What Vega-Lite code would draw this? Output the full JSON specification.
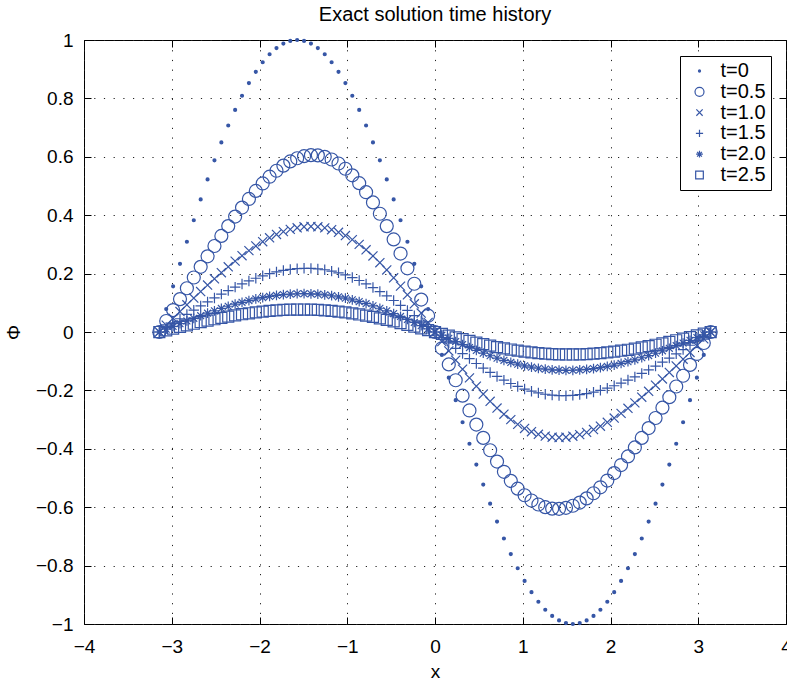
{
"$schema":"https://vega.github.io/schema/vega-lite/v6.json",
"width":702,"height":584,
"autosize":{"type":"none"},
"padding":{"left":84,"top":40,"right":1,"bottom":59},
"title":{"text":"Exact solution time history","font":"Liberation Sans","fontSize":20,"fontWeight":"normal","color":"#000","offset":6},
"data":{"values":[
{"s":"t=0","x":-3.1416,"y":0},{"s":"t=0","x":-3.0631,"y":0.0785},{"s":"t=0","x":-2.9845,"y":0.1564},{"s":"t=0","x":-2.906,"y":0.2334},{"s":"t=0","x":-2.8274,"y":0.309},{"s":"t=0","x":-2.7489,"y":0.3827},{"s":"t=0","x":-2.6704,"y":0.454},{"s":"t=0","x":-2.5918,"y":0.5225},{"s":"t=0","x":-2.5133,"y":0.5878},{"s":"t=0","x":-2.4347,"y":0.6494},{"s":"t=0","x":-2.3562,"y":0.7071},{"s":"t=0","x":-2.2777,"y":0.7604},{"s":"t=0","x":-2.1991,"y":0.809},{"s":"t=0","x":-2.1206,"y":0.8526},{"s":"t=0","x":-2.042,"y":0.891},{"s":"t=0","x":-1.9635,"y":0.9239},{"s":"t=0","x":-1.885,"y":0.9511},{"s":"t=0","x":-1.8064,"y":0.9724},{"s":"t=0","x":-1.7279,"y":0.9877},{"s":"t=0","x":-1.6493,"y":0.9969},{"s":"t=0","x":-1.5708,"y":1},{"s":"t=0","x":-1.4923,"y":0.9969},{"s":"t=0","x":-1.4137,"y":0.9877},{"s":"t=0","x":-1.3352,"y":0.9724},{"s":"t=0","x":-1.2566,"y":0.9511},{"s":"t=0","x":-1.1781,"y":0.9239},{"s":"t=0","x":-1.0996,"y":0.891},{"s":"t=0","x":-1.021,"y":0.8526},{"s":"t=0","x":-0.9425,"y":0.809},{"s":"t=0","x":-0.8639,"y":0.7604},{"s":"t=0","x":-0.7854,"y":0.7071},{"s":"t=0","x":-0.7069,"y":0.6494},{"s":"t=0","x":-0.6283,"y":0.5878},{"s":"t=0","x":-0.5498,"y":0.5225},{"s":"t=0","x":-0.4712,"y":0.454},{"s":"t=0","x":-0.3927,"y":0.3827},{"s":"t=0","x":-0.3142,"y":0.309},{"s":"t=0","x":-0.2356,"y":0.2334},{"s":"t=0","x":-0.1571,"y":0.1564},{"s":"t=0","x":-0.0785,"y":0.0785},
{"s":"t=0","x":0,"y":0},
{"s":"t=0","x":0.0785,"y":-0.0785},{"s":"t=0","x":0.1571,"y":-0.1564},{"s":"t=0","x":0.2356,"y":-0.2334},{"s":"t=0","x":0.3142,"y":-0.309},{"s":"t=0","x":0.3927,"y":-0.3827},{"s":"t=0","x":0.4712,"y":-0.454},{"s":"t=0","x":0.5498,"y":-0.5225},{"s":"t=0","x":0.6283,"y":-0.5878},{"s":"t=0","x":0.7069,"y":-0.6494},{"s":"t=0","x":0.7854,"y":-0.7071},{"s":"t=0","x":0.8639,"y":-0.7604},{"s":"t=0","x":0.9425,"y":-0.809},{"s":"t=0","x":1.021,"y":-0.8526},{"s":"t=0","x":1.0996,"y":-0.891},{"s":"t=0","x":1.1781,"y":-0.9239},{"s":"t=0","x":1.2566,"y":-0.9511},{"s":"t=0","x":1.3352,"y":-0.9724},{"s":"t=0","x":1.4137,"y":-0.9877},{"s":"t=0","x":1.4923,"y":-0.9969},{"s":"t=0","x":1.5708,"y":-1},{"s":"t=0","x":1.6493,"y":-0.9969},{"s":"t=0","x":1.7279,"y":-0.9877},{"s":"t=0","x":1.8064,"y":-0.9724},{"s":"t=0","x":1.885,"y":-0.9511},{"s":"t=0","x":1.9635,"y":-0.9239},{"s":"t=0","x":2.042,"y":-0.891},{"s":"t=0","x":2.1206,"y":-0.8526},{"s":"t=0","x":2.1991,"y":-0.809},{"s":"t=0","x":2.2777,"y":-0.7604},{"s":"t=0","x":2.3562,"y":-0.7071},{"s":"t=0","x":2.4347,"y":-0.6494},{"s":"t=0","x":2.5133,"y":-0.5878},{"s":"t=0","x":2.5918,"y":-0.5225},{"s":"t=0","x":2.6704,"y":-0.454},{"s":"t=0","x":2.7489,"y":-0.3827},{"s":"t=0","x":2.8274,"y":-0.309},{"s":"t=0","x":2.906,"y":-0.2334},{"s":"t=0","x":2.9845,"y":-0.1564},{"s":"t=0","x":3.0631,"y":-0.0785},{"s":"t=0","x":3.1416,"y":0},

{"s":"t=0.5","x":-3.1416,"y":0},{"s":"t=0.5","x":-3.0631,"y":0.0376},{"s":"t=0.5","x":-2.9845,"y":0.0752},{"s":"t=0.5","x":-2.906,"y":0.1126},{"s":"t=0.5","x":-2.8274,"y":0.1498},{"s":"t=0.5","x":-2.7489,"y":0.1867},{"s":"t=0.5","x":-2.6704,"y":0.2232},{"s":"t=0.5","x":-2.5918,"y":0.2592},{"s":"t=0.5","x":-2.5133,"y":0.2946},{"s":"t=0.5","x":-2.4347,"y":0.3291},{"s":"t=0.5","x":-2.3562,"y":0.3627},{"s":"t=0.5","x":-2.2777,"y":0.3952},{"s":"t=0.5","x":-2.1991,"y":0.4262},{"s":"t=0.5","x":-2.1206,"y":0.4556},{"s":"t=0.5","x":-2.042,"y":0.4832},{"s":"t=0.5","x":-1.9635,"y":0.5087},{"s":"t=0.5","x":-1.885,"y":0.5318},{"s":"t=0.5","x":-1.8064,"y":0.5522},{"s":"t=0.5","x":-1.7279,"y":0.5698},{"s":"t=0.5","x":-1.6493,"y":0.5841},{"s":"t=0.5","x":-1.5708,"y":0.595},{"s":"t=0.5","x":-1.4923,"y":0.6022},{"s":"t=0.5","x":-1.4137,"y":0.6056},{"s":"t=0.5","x":-1.3352,"y":0.6049},{"s":"t=0.5","x":-1.2566,"y":0.6},{"s":"t=0.5","x":-1.1781,"y":0.5907},{"s":"t=0.5","x":-1.0996,"y":0.5771},{"s":"t=0.5","x":-1.021,"y":0.559},{"s":"t=0.5","x":-0.9425,"y":0.5365},{"s":"t=0.5","x":-0.8639,"y":0.5097},{"s":"t=0.5","x":-0.7854,"y":0.4787},{"s":"t=0.5","x":-0.7069,"y":0.4437},{"s":"t=0.5","x":-0.6283,"y":0.4049},{"s":"t=0.5","x":-0.5498,"y":0.3626},{"s":"t=0.5","x":-0.4712,"y":0.317},{"s":"t=0.5","x":-0.3927,"y":0.2687},{"s":"t=0.5","x":-0.3142,"y":0.218},{"s":"t=0.5","x":-0.2356,"y":0.1652},{"s":"t=0.5","x":-0.1571,"y":0.111},{"s":"t=0.5","x":-0.0785,"y":0.0558},
{"s":"t=0.5","x":0,"y":0},
{"s":"t=0.5","x":0.0785,"y":-0.0558},{"s":"t=0.5","x":0.1571,"y":-0.111},{"s":"t=0.5","x":0.2356,"y":-0.1652},{"s":"t=0.5","x":0.3142,"y":-0.218},{"s":"t=0.5","x":0.3927,"y":-0.2687},{"s":"t=0.5","x":0.4712,"y":-0.317},{"s":"t=0.5","x":0.5498,"y":-0.3626},{"s":"t=0.5","x":0.6283,"y":-0.4049},{"s":"t=0.5","x":0.7069,"y":-0.4437},{"s":"t=0.5","x":0.7854,"y":-0.4787},{"s":"t=0.5","x":0.8639,"y":-0.5097},{"s":"t=0.5","x":0.9425,"y":-0.5365},{"s":"t=0.5","x":1.021,"y":-0.559},{"s":"t=0.5","x":1.0996,"y":-0.5771},{"s":"t=0.5","x":1.1781,"y":-0.5907},{"s":"t=0.5","x":1.2566,"y":-0.6},{"s":"t=0.5","x":1.3352,"y":-0.6049},{"s":"t=0.5","x":1.4137,"y":-0.6056},{"s":"t=0.5","x":1.4923,"y":-0.6022},{"s":"t=0.5","x":1.5708,"y":-0.595},{"s":"t=0.5","x":1.6493,"y":-0.5841},{"s":"t=0.5","x":1.7279,"y":-0.5698},{"s":"t=0.5","x":1.8064,"y":-0.5522},{"s":"t=0.5","x":1.885,"y":-0.5318},{"s":"t=0.5","x":1.9635,"y":-0.5087},{"s":"t=0.5","x":2.042,"y":-0.4832},{"s":"t=0.5","x":2.1206,"y":-0.4556},{"s":"t=0.5","x":2.1991,"y":-0.4262},{"s":"t=0.5","x":2.2777,"y":-0.3952},{"s":"t=0.5","x":2.3562,"y":-0.3627},{"s":"t=0.5","x":2.4347,"y":-0.3291},{"s":"t=0.5","x":2.5133,"y":-0.2946},{"s":"t=0.5","x":2.5918,"y":-0.2592},{"s":"t=0.5","x":2.6704,"y":-0.2232},{"s":"t=0.5","x":2.7489,"y":-0.1867},{"s":"t=0.5","x":2.8274,"y":-0.1498},{"s":"t=0.5","x":2.906,"y":-0.1126},{"s":"t=0.5","x":2.9845,"y":-0.0752},{"s":"t=0.5","x":3.0631,"y":-0.0376},{"s":"t=0.5","x":3.1416,"y":0},

{"s":"t=1.0","x":-3.1416,"y":0},{"s":"t=1.0","x":-3.0631,"y":0.0235},{"s":"t=1.0","x":-2.9845,"y":0.0469},{"s":"t=1.0","x":-2.906,"y":0.0702},{"s":"t=1.0","x":-2.8274,"y":0.0933},{"s":"t=1.0","x":-2.7489,"y":0.1161},{"s":"t=1.0","x":-2.6704,"y":0.1386},{"s":"t=1.0","x":-2.5918,"y":0.1607},{"s":"t=1.0","x":-2.5133,"y":0.1823},{"s":"t=1.0","x":-2.4347,"y":0.2032},{"s":"t=1.0","x":-2.3562,"y":0.2234},{"s":"t=1.0","x":-2.2777,"y":0.2428},{"s":"t=1.0","x":-2.1991,"y":0.2612},{"s":"t=1.0","x":-2.1206,"y":0.2786},{"s":"t=1.0","x":-2.042,"y":0.2946},{"s":"t=1.0","x":-1.9635,"y":0.3093},{"s":"t=1.0","x":-1.885,"y":0.3225},{"s":"t=1.0","x":-1.8064,"y":0.334},{"s":"t=1.0","x":-1.7279,"y":0.3437},{"s":"t=1.0","x":-1.6493,"y":0.3514},{"s":"t=1.0","x":-1.5708,"y":0.357},{"s":"t=1.0","x":-1.4923,"y":0.3604},{"s":"t=1.0","x":-1.4137,"y":0.3616},{"s":"t=1.0","x":-1.3352,"y":0.3603},{"s":"t=1.0","x":-1.2566,"y":0.3566},{"s":"t=1.0","x":-1.1781,"y":0.3503},{"s":"t=1.0","x":-1.0996,"y":0.3416},{"s":"t=1.0","x":-1.021,"y":0.3302},{"s":"t=1.0","x":-0.9425,"y":0.3164},{"s":"t=1.0","x":-0.8639,"y":0.3001},{"s":"t=1.0","x":-0.7854,"y":0.2814},{"s":"t=1.0","x":-0.7069,"y":0.2605},{"s":"t=1.0","x":-0.6283,"y":0.2374},{"s":"t=1.0","x":-0.5498,"y":0.2124},{"s":"t=1.0","x":-0.4712,"y":0.1855},{"s":"t=1.0","x":-0.3927,"y":0.1571},{"s":"t=1.0","x":-0.3142,"y":0.1274},{"s":"t=1.0","x":-0.2356,"y":0.0965},{"s":"t=1.0","x":-0.1571,"y":0.0648},{"s":"t=1.0","x":-0.0785,"y":0.0326},
{"s":"t=1.0","x":0,"y":0},
{"s":"t=1.0","x":0.0785,"y":-0.0326},{"s":"t=1.0","x":0.1571,"y":-0.0648},{"s":"t=1.0","x":0.2356,"y":-0.0965},{"s":"t=1.0","x":0.3142,"y":-0.1274},{"s":"t=1.0","x":0.3927,"y":-0.1571},{"s":"t=1.0","x":0.4712,"y":-0.1855},{"s":"t=1.0","x":0.5498,"y":-0.2124},{"s":"t=1.0","x":0.6283,"y":-0.2374},{"s":"t=1.0","x":0.7069,"y":-0.2605},{"s":"t=1.0","x":0.7854,"y":-0.2814},{"s":"t=1.0","x":0.8639,"y":-0.3001},{"s":"t=1.0","x":0.9425,"y":-0.3164},{"s":"t=1.0","x":1.021,"y":-0.3302},{"s":"t=1.0","x":1.0996,"y":-0.3416},{"s":"t=1.0","x":1.1781,"y":-0.3503},{"s":"t=1.0","x":1.2566,"y":-0.3566},{"s":"t=1.0","x":1.3352,"y":-0.3603},{"s":"t=1.0","x":1.4137,"y":-0.3616},{"s":"t=1.0","x":1.4923,"y":-0.3604},{"s":"t=1.0","x":1.5708,"y":-0.357},{"s":"t=1.0","x":1.6493,"y":-0.3514},{"s":"t=1.0","x":1.7279,"y":-0.3437},{"s":"t=1.0","x":1.8064,"y":-0.334},{"s":"t=1.0","x":1.885,"y":-0.3225},{"s":"t=1.0","x":1.9635,"y":-0.3093},{"s":"t=1.0","x":2.042,"y":-0.2946},{"s":"t=1.0","x":2.1206,"y":-0.2786},{"s":"t=1.0","x":2.1991,"y":-0.2612},{"s":"t=1.0","x":2.2777,"y":-0.2428},{"s":"t=1.0","x":2.3562,"y":-0.2234},{"s":"t=1.0","x":2.4347,"y":-0.2032},{"s":"t=1.0","x":2.5133,"y":-0.1823},{"s":"t=1.0","x":2.5918,"y":-0.1607},{"s":"t=1.0","x":2.6704,"y":-0.1386},{"s":"t=1.0","x":2.7489,"y":-0.1161},{"s":"t=1.0","x":2.8274,"y":-0.0933},{"s":"t=1.0","x":2.906,"y":-0.0702},{"s":"t=1.0","x":2.9845,"y":-0.0469},{"s":"t=1.0","x":3.0631,"y":-0.0235},{"s":"t=1.0","x":3.1416,"y":0},

{"s":"t=1.5","x":-3.1416,"y":0},{"s":"t=1.5","x":-3.0631,"y":0.0152},{"s":"t=1.5","x":-2.9845,"y":0.0304},{"s":"t=1.5","x":-2.906,"y":0.0454},{"s":"t=1.5","x":-2.8274,"y":0.0603},{"s":"t=1.5","x":-2.7489,"y":0.0749},{"s":"t=1.5","x":-2.6704,"y":0.0892},{"s":"t=1.5","x":-2.5918,"y":0.1031},{"s":"t=1.5","x":-2.5133,"y":0.1166},{"s":"t=1.5","x":-2.4347,"y":0.1296},{"s":"t=1.5","x":-2.3562,"y":0.1419},{"s":"t=1.5","x":-2.2777,"y":0.1537},{"s":"t=1.5","x":-2.1991,"y":0.1646},{"s":"t=1.5","x":-2.1206,"y":0.1748},{"s":"t=1.5","x":-2.042,"y":0.1841},{"s":"t=1.5","x":-1.9635,"y":0.1924},{"s":"t=1.5","x":-1.885,"y":0.1996},{"s":"t=1.5","x":-1.8064,"y":0.2058},{"s":"t=1.5","x":-1.7279,"y":0.2108},{"s":"t=1.5","x":-1.6493,"y":0.2145},{"s":"t=1.5","x":-1.5708,"y":0.217},{"s":"t=1.5","x":-1.4923,"y":0.2181},{"s":"t=1.5","x":-1.4137,"y":0.2179},{"s":"t=1.5","x":-1.3352,"y":0.2162},{"s":"t=1.5","x":-1.2566,"y":0.2131},{"s":"t=1.5","x":-1.1781,"y":0.2086},{"s":"t=1.5","x":-1.0996,"y":0.2027},{"s":"t=1.5","x":-1.021,"y":0.1953},{"s":"t=1.5","x":-0.9425,"y":0.1865},{"s":"t=1.5","x":-0.8639,"y":0.1764},{"s":"t=1.5","x":-0.7854,"y":0.1649},{"s":"t=1.5","x":-0.7069,"y":0.1523},{"s":"t=1.5","x":-0.6283,"y":0.1385},{"s":"t=1.5","x":-0.5498,"y":0.1236},{"s":"t=1.5","x":-0.4712,"y":0.1078},{"s":"t=1.5","x":-0.3927,"y":0.0912},{"s":"t=1.5","x":-0.3142,"y":0.0738},{"s":"t=1.5","x":-0.2356,"y":0.0559},{"s":"t=1.5","x":-0.1571,"y":0.0375},{"s":"t=1.5","x":-0.0785,"y":0.0188},
{"s":"t=1.5","x":0,"y":0},
{"s":"t=1.5","x":0.0785,"y":-0.0188},{"s":"t=1.5","x":0.1571,"y":-0.0375},{"s":"t=1.5","x":0.2356,"y":-0.0559},{"s":"t=1.5","x":0.3142,"y":-0.0738},{"s":"t=1.5","x":0.3927,"y":-0.0912},{"s":"t=1.5","x":0.4712,"y":-0.1078},{"s":"t=1.5","x":0.5498,"y":-0.1236},{"s":"t=1.5","x":0.6283,"y":-0.1385},{"s":"t=1.5","x":0.7069,"y":-0.1523},{"s":"t=1.5","x":0.7854,"y":-0.1649},{"s":"t=1.5","x":0.8639,"y":-0.1764},{"s":"t=1.5","x":0.9425,"y":-0.1865},{"s":"t=1.5","x":1.021,"y":-0.1953},{"s":"t=1.5","x":1.0996,"y":-0.2027},{"s":"t=1.5","x":1.1781,"y":-0.2086},{"s":"t=1.5","x":1.2566,"y":-0.2131},{"s":"t=1.5","x":1.3352,"y":-0.2162},{"s":"t=1.5","x":1.4137,"y":-0.2179},{"s":"t=1.5","x":1.4923,"y":-0.2181},{"s":"t=1.5","x":1.5708,"y":-0.217},{"s":"t=1.5","x":1.6493,"y":-0.2145},{"s":"t=1.5","x":1.7279,"y":-0.2108},{"s":"t=1.5","x":1.8064,"y":-0.2058},{"s":"t=1.5","x":1.885,"y":-0.1996},{"s":"t=1.5","x":1.9635,"y":-0.1924},{"s":"t=1.5","x":2.042,"y":-0.1841},{"s":"t=1.5","x":2.1206,"y":-0.1748},{"s":"t=1.5","x":2.1991,"y":-0.1646},{"s":"t=1.5","x":2.2777,"y":-0.1537},{"s":"t=1.5","x":2.3562,"y":-0.1419},{"s":"t=1.5","x":2.4347,"y":-0.1296},{"s":"t=1.5","x":2.5133,"y":-0.1166},{"s":"t=1.5","x":2.5918,"y":-0.1031},{"s":"t=1.5","x":2.6704,"y":-0.0892},{"s":"t=1.5","x":2.7489,"y":-0.0749},{"s":"t=1.5","x":2.8274,"y":-0.0603},{"s":"t=1.5","x":2.906,"y":-0.0454},{"s":"t=1.5","x":2.9845,"y":-0.0304},{"s":"t=1.5","x":3.0631,"y":-0.0152},{"s":"t=1.5","x":3.1416,"y":0},

{"s":"t=2.0","x":-3.1416,"y":0},{"s":"t=2.0","x":-3.0631,"y":0.0096},{"s":"t=2.0","x":-2.9845,"y":0.0191},{"s":"t=2.0","x":-2.906,"y":0.0285},{"s":"t=2.0","x":-2.8274,"y":0.0378},{"s":"t=2.0","x":-2.7489,"y":0.047},{"s":"t=2.0","x":-2.6704,"y":0.0558},{"s":"t=2.0","x":-2.5918,"y":0.0644},{"s":"t=2.0","x":-2.5133,"y":0.0727},{"s":"t=2.0","x":-2.4347,"y":0.0806},{"s":"t=2.0","x":-2.3562,"y":0.0881},{"s":"t=2.0","x":-2.2777,"y":0.0952},{"s":"t=2.0","x":-2.1991,"y":0.1017},{"s":"t=2.0","x":-2.1206,"y":0.1077},{"s":"t=2.0","x":-2.042,"y":0.1131},{"s":"t=2.0","x":-1.9635,"y":0.1179},{"s":"t=2.0","x":-1.885,"y":0.1219},{"s":"t=2.0","x":-1.8064,"y":0.1253},{"s":"t=2.0","x":-1.7279,"y":0.128},{"s":"t=2.0","x":-1.6493,"y":0.1299},{"s":"t=2.0","x":-1.5708,"y":0.131},{"s":"t=2.0","x":-1.4923,"y":0.1313},{"s":"t=2.0","x":-1.4137,"y":0.1308},{"s":"t=2.0","x":-1.3352,"y":0.1294},{"s":"t=2.0","x":-1.2566,"y":0.1272},{"s":"t=2.0","x":-1.1781,"y":0.1242},{"s":"t=2.0","x":-1.0996,"y":0.1204},{"s":"t=2.0","x":-1.021,"y":0.1157},{"s":"t=2.0","x":-0.9425,"y":0.1103},{"s":"t=2.0","x":-0.8639,"y":0.1041},{"s":"t=2.0","x":-0.7854,"y":0.0971},{"s":"t=2.0","x":-0.7069,"y":0.0895},{"s":"t=2.0","x":-0.6283,"y":0.0813},{"s":"t=2.0","x":-0.5498,"y":0.0725},{"s":"t=2.0","x":-0.4712,"y":0.0631},{"s":"t=2.0","x":-0.3927,"y":0.0533},{"s":"t=2.0","x":-0.3142,"y":0.0431},{"s":"t=2.0","x":-0.2356,"y":0.0326},{"s":"t=2.0","x":-0.1571,"y":0.0219},{"s":"t=2.0","x":-0.0785,"y":0.011},
{"s":"t=2.0","x":0,"y":0},
{"s":"t=2.0","x":0.0785,"y":-0.011},{"s":"t=2.0","x":0.1571,"y":-0.0219},{"s":"t=2.0","x":0.2356,"y":-0.0326},{"s":"t=2.0","x":0.3142,"y":-0.0431},{"s":"t=2.0","x":0.3927,"y":-0.0533},{"s":"t=2.0","x":0.4712,"y":-0.0631},{"s":"t=2.0","x":0.5498,"y":-0.0725},{"s":"t=2.0","x":0.6283,"y":-0.0813},{"s":"t=2.0","x":0.7069,"y":-0.0895},{"s":"t=2.0","x":0.7854,"y":-0.0971},{"s":"t=2.0","x":0.8639,"y":-0.1041},{"s":"t=2.0","x":0.9425,"y":-0.1103},{"s":"t=2.0","x":1.021,"y":-0.1157},{"s":"t=2.0","x":1.0996,"y":-0.1204},{"s":"t=2.0","x":1.1781,"y":-0.1242},{"s":"t=2.0","x":1.2566,"y":-0.1272},{"s":"t=2.0","x":1.3352,"y":-0.1294},{"s":"t=2.0","x":1.4137,"y":-0.1308},{"s":"t=2.0","x":1.4923,"y":-0.1313},{"s":"t=2.0","x":1.5708,"y":-0.131},{"s":"t=2.0","x":1.6493,"y":-0.1299},{"s":"t=2.0","x":1.7279,"y":-0.128},{"s":"t=2.0","x":1.8064,"y":-0.1253},{"s":"t=2.0","x":1.885,"y":-0.1219},{"s":"t=2.0","x":1.9635,"y":-0.1179},{"s":"t=2.0","x":2.042,"y":-0.1131},{"s":"t=2.0","x":2.1206,"y":-0.1077},{"s":"t=2.0","x":2.1991,"y":-0.1017},{"s":"t=2.0","x":2.2777,"y":-0.0952},{"s":"t=2.0","x":2.3562,"y":-0.0881},{"s":"t=2.0","x":2.4347,"y":-0.0806},{"s":"t=2.0","x":2.5133,"y":-0.0727},{"s":"t=2.0","x":2.5918,"y":-0.0644},{"s":"t=2.0","x":2.6704,"y":-0.0558},{"s":"t=2.0","x":2.7489,"y":-0.047},{"s":"t=2.0","x":2.8274,"y":-0.0378},{"s":"t=2.0","x":2.906,"y":-0.0285},{"s":"t=2.0","x":2.9845,"y":-0.0191},{"s":"t=2.0","x":3.0631,"y":-0.0096},{"s":"t=2.0","x":3.1416,"y":0},

{"s":"t=2.5","x":-3.1416,"y":0},{"s":"t=2.5","x":-3.0631,"y":0.0058},{"s":"t=2.5","x":-2.9845,"y":0.0116},{"s":"t=2.5","x":-2.906,"y":0.0173},{"s":"t=2.5","x":-2.8274,"y":0.0229},{"s":"t=2.5","x":-2.7489,"y":0.0283},{"s":"t=2.5","x":-2.6704,"y":0.0337},{"s":"t=2.5","x":-2.5918,"y":0.0388},{"s":"t=2.5","x":-2.5133,"y":0.0437},{"s":"t=2.5","x":-2.4347,"y":0.0484},{"s":"t=2.5","x":-2.3562,"y":0.0529},{"s":"t=2.5","x":-2.2777,"y":0.057},{"s":"t=2.5","x":-2.1991,"y":0.0608},{"s":"t=2.5","x":-2.1206,"y":0.0642},{"s":"t=2.5","x":-2.042,"y":0.0673},{"s":"t=2.5","x":-1.9635,"y":0.07},{"s":"t=2.5","x":-1.885,"y":0.0723},{"s":"t=2.5","x":-1.8064,"y":0.0741},{"s":"t=2.5","x":-1.7279,"y":0.0756},{"s":"t=2.5","x":-1.6493,"y":0.0765},{"s":"t=2.5","x":-1.5708,"y":0.077},{"s":"t=2.5","x":-1.4923,"y":0.077},{"s":"t=2.5","x":-1.4137,"y":0.0765},{"s":"t=2.5","x":-1.3352,"y":0.0756},{"s":"t=2.5","x":-1.2566,"y":0.0742},{"s":"t=2.5","x":-1.1781,"y":0.0723},{"s":"t=2.5","x":-1.0996,"y":0.0699},{"s":"t=2.5","x":-1.021,"y":0.0671},{"s":"t=2.5","x":-0.9425,"y":0.0638},{"s":"t=2.5","x":-0.8639,"y":0.0601},{"s":"t=2.5","x":-0.7854,"y":0.056},{"s":"t=2.5","x":-0.7069,"y":0.0516},{"s":"t=2.5","x":-0.6283,"y":0.0468},{"s":"t=2.5","x":-0.5498,"y":0.0417},{"s":"t=2.5","x":-0.4712,"y":0.0363},{"s":"t=2.5","x":-0.3927,"y":0.0306},{"s":"t=2.5","x":-0.3142,"y":0.0247},{"s":"t=2.5","x":-0.2356,"y":0.0187},{"s":"t=2.5","x":-0.1571,"y":0.0125},{"s":"t=2.5","x":-0.0785,"y":0.0063},
{"s":"t=2.5","x":0,"y":0},
{"s":"t=2.5","x":0.0785,"y":-0.0063},{"s":"t=2.5","x":0.1571,"y":-0.0125},{"s":"t=2.5","x":0.2356,"y":-0.0187},{"s":"t=2.5","x":0.3142,"y":-0.0247},{"s":"t=2.5","x":0.3927,"y":-0.0306},{"s":"t=2.5","x":0.4712,"y":-0.0363},{"s":"t=2.5","x":0.5498,"y":-0.0417},{"s":"t=2.5","x":0.6283,"y":-0.0468},{"s":"t=2.5","x":0.7069,"y":-0.0516},{"s":"t=2.5","x":0.7854,"y":-0.056},{"s":"t=2.5","x":0.8639,"y":-0.0601},{"s":"t=2.5","x":0.9425,"y":-0.0638},{"s":"t=2.5","x":1.021,"y":-0.0671},{"s":"t=2.5","x":1.0996,"y":-0.0699},{"s":"t=2.5","x":1.1781,"y":-0.0723},{"s":"t=2.5","x":1.2566,"y":-0.0742},{"s":"t=2.5","x":1.3352,"y":-0.0756},{"s":"t=2.5","x":1.4137,"y":-0.0765},{"s":"t=2.5","x":1.4923,"y":-0.077},{"s":"t=2.5","x":1.5708,"y":-0.077},{"s":"t=2.5","x":1.6493,"y":-0.0765},{"s":"t=2.5","x":1.7279,"y":-0.0756},{"s":"t=2.5","x":1.8064,"y":-0.0741},{"s":"t=2.5","x":1.885,"y":-0.0723},{"s":"t=2.5","x":1.9635,"y":-0.07},{"s":"t=2.5","x":2.042,"y":-0.0673},{"s":"t=2.5","x":2.1206,"y":-0.0642},{"s":"t=2.5","x":2.1991,"y":-0.0608},{"s":"t=2.5","x":2.2777,"y":-0.057},{"s":"t=2.5","x":2.3562,"y":-0.0529},{"s":"t=2.5","x":2.4347,"y":-0.0484},{"s":"t=2.5","x":2.5133,"y":-0.0437},{"s":"t=2.5","x":2.5918,"y":-0.0388},{"s":"t=2.5","x":2.6704,"y":-0.0337},{"s":"t=2.5","x":2.7489,"y":-0.0283},{"s":"t=2.5","x":2.8274,"y":-0.0229},{"s":"t=2.5","x":2.906,"y":-0.0173},{"s":"t=2.5","x":2.9845,"y":-0.0116},{"s":"t=2.5","x":3.0631,"y":-0.0058},{"s":"t=2.5","x":3.1416,"y":0}
]},
"layer":[
{
"mark":{"type":"point","filled":false,"size":169,"strokeWidth":1.2,"color":"#3656a6","opacity":1},
"encoding":{
"x":{"field":"x","type":"quantitative","scale":{"domain":[-4,4],"nice":false,"zero":false},
"axis":{"orient":"bottom","values":[-4,-3,-2,-1,0,1,2,3,4],"format":"~g","title":"x","grid":true,"labelPadding":20,"titlePadding":6}},
"y":{"field":"y","type":"quantitative","scale":{"domain":[-1,1],"nice":false,"zero":false},
"axis":{"orient":"left","values":[-1,-0.8,-0.6,-0.4,-0.2,0,0.2,0.4,0.6,0.8,1],"format":"~g","title":"Φ","grid":true,"labelPadding":18,"titlePadding":12}},
"shape":{"field":"s","type":"nominal",
"scale":{"domain":["t=0","t=0.5","t=1.0","t=1.5","t=2.0","t=2.5"],
"range":["M0.23,0A0.23,0.23,0,1,1,-0.23,0A0.23,0.23,0,1,1,0.23,0ZM0.1,0A0.1,0.1,0,1,1,-0.1,0A0.1,0.1,0,1,1,0.1,0Z",
"M1,0A1,1,0,1,1,-1,0A1,1,0,1,1,1,0Z",
"M-0.7,-0.7L0.7,0.7M-0.7,0.7L0.7,-0.7",
"M-0.8,0L0.8,0M0,-0.8L0,0.8",
"M-0.75,0L0.75,0M0,-0.75L0,0.75M-0.53,-0.53L0.53,0.53M-0.53,0.53L0.53,-0.53",
"M-0.85,-0.85L0.85,-0.85L0.85,0.85L-0.85,0.85Z"]},
"legend":{"orient":"none","legendX":596,"legendY":16,"title":null,"strokeColor":"#000","fillColor":"#fff","padding":5,"rowPadding":0.8,"symbolSize":81,"symbolStrokeWidth":1.2,"symbolStrokeColor":"#3656a6","symbolFillColor":"transparent","symbolOffset":4.5,"labelOffset":11,"labelFontSize":20,"labelFont":"Liberation Sans","labelColor":"#000"}}
}
},
{
"mark":{"type":"point","opacity":0},
"encoding":{
"x":{"field":"x","type":"quantitative","scale":{"domain":[-4,4],"nice":false,"zero":false},
"axis":{"orient":"top","values":[-4,-3,-2,-1,0,1,2,3,4],"labels":false,"title":null,"grid":false}},
"y":{"field":"y","type":"quantitative","scale":{"domain":[-1,1],"nice":false,"zero":false},
"axis":{"orient":"right","values":[-1,-0.8,-0.6,-0.4,-0.2,0,0.2,0.4,0.6,0.8,1],"labels":false,"title":null,"grid":false}}
}
}
],
"resolve":{"axis":{"x":"independent","y":"independent"}},
"config":{
"font":"Liberation Sans",
"view":{"stroke":"#000","strokeWidth":1},
"axis":{"domain":false,"ticks":true,"tickColor":"#000","tickSize":-7,"tickWidth":1,"labelColor":"#000","labelFont":"Liberation Sans","labelFontSize":19,"titleFont":"Liberation Sans","titleFontSize":19,"titleFontWeight":"normal","titleColor":"#000","gridColor":"#222","gridDash":[1.2,8.5],"gridOpacity":1,"gridWidth":1,"labelFlush":false,"labelOverlap":false}
}
}
